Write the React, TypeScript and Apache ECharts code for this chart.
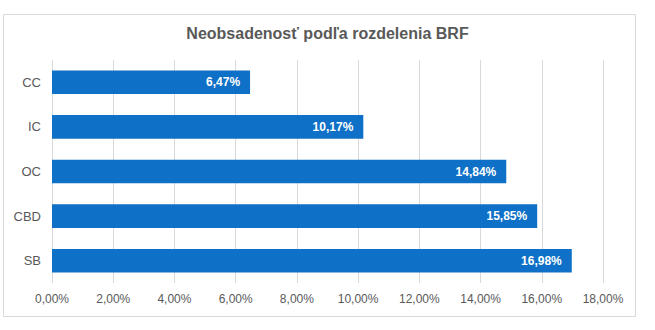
import React, { useEffect, useRef } from "react";
import * as echarts from "echarts";

const categories = ["CC", "IC", "OC", "CBD", "SB"];
const values = [6.47, 10.17, 14.84, 15.85, 16.98];
const titleText = "Neobsadenosť podľa rozdelenia BRF";

const fmt = (v: number) => v.toFixed(2).replace(".", ",") + "%";

export default function App() {
  const ref = useRef<HTMLDivElement>(null);
  useEffect(() => {
    if (!ref.current) return;
    const chart = echarts.init(ref.current, null, { renderer: "svg" });
    chart.setOption({
      animation: false,
      backgroundColor: "#ffffff",
      textStyle: { fontFamily: "Liberation Sans, Arial, sans-serif" },
      title: {
        text: titleText,
        left: "center",
        top: 20,
        textStyle: {
          fontSize: 16,
          fontWeight: "bold",
          color: "#595959",
          fontFamily: "Liberation Sans, Arial, sans-serif",
        },
      },
      graphic: [
        {
          type: "rect",
          shape: { x: 3.5, y: 14.5, width: 632, height: 302 },
          style: { fill: "none", stroke: "#d9d9d9", lineWidth: 1 },
          silent: true,
        },
      ],
      grid: { left: 52, right: 52, top: 60, bottom: 47 },
      xAxis: {
        type: "value",
        min: 0,
        max: 18,
        interval: 2,
        axisLine: { show: false },
        axisTick: { show: false },
        splitLine: { show: true, lineStyle: { color: "#d9d9d9", width: 1 } },
        axisLabel: {
          formatter: (v: number) => fmt(v),
          color: "#595959",
          fontSize: 12,
          margin: 10,
        },
      },
      yAxis: {
        type: "category",
        data: categories,
        inverse: true,
        axisLine: { show: false },
        axisTick: { show: false },
        axisLabel: { color: "#595959", fontSize: 13, margin: 11 },
      },
      series: [
        {
          type: "bar",
          data: values,
          barCategoryGap: "47%",
          itemStyle: { color: "#0E70C6" },
          label: {
            show: true,
            position: "insideRight",
            distance: 10,
            formatter: (p: any) => fmt(p.value),
            color: "#ffffff",
            fontWeight: "bold",
            fontSize: 12,
          },
        },
      ],
    });
    return () => chart.dispose();
  }, []);
  return (
    <div
      ref={ref}
      style={{ position: "absolute", left: 0, top: 0, width: 655, height: 330 }}
    />
  );
}
